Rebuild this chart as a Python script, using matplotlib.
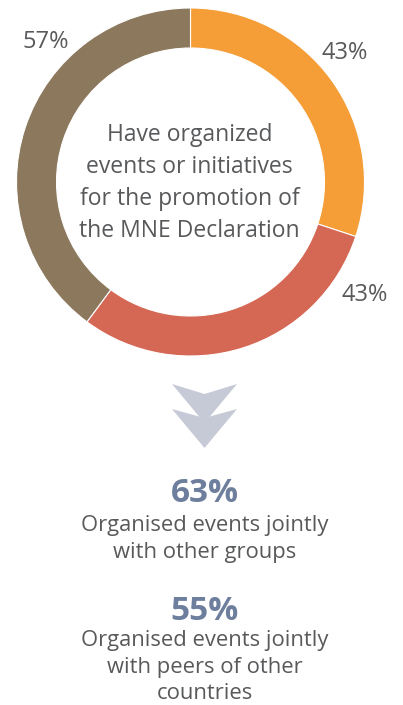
#!/usr/bin/env python3
"""
Donut chart: MNE Declaration promotion events, with follow-up stats below
"""

import matplotlib
matplotlib.use('Agg')
import matplotlib.pyplot as plt
from matplotlib.patches import Polygon

# --- data ---
segment_values = [43, 43, 57]
segment_labels = ['43%', '43%', '57%']
segment_colors = ['#F59D36', '#D56755', '#8B785D']
center_text = 'Have organized\nevents or initiatives\nfor the promotion of\nthe MNE Declaration'
stat_values = ['63%', '55%']
stat_texts = ['Organised events jointly\nwith other groups',
              'Organised events jointly\nwith peers of other\ncountries']

W, H = 403, 705
TEXT_GRAY = '#58595B'
SLATE = '#6E7F9E'
ARROW = '#C6CAD7'

plt.rcParams['font.family'] = ['Open Sans', 'DejaVu Sans']

fig = plt.figure(figsize=(W / 100, H / 100), dpi=100)
ax = fig.add_axes([0, 0, 1, 1])

# donut (pixel coords, y flipped so that y grows upward)
cx, cy = 190.5, H - 182
ax.pie(segment_values, colors=segment_colors, startangle=90, counterclock=False,
       radius=174, center=(cx, cy),
       wedgeprops=dict(width=40, edgecolor='white', linewidth=0.8))

# percentage labels around the ring
label_pos = [(345, 53), (365, 295), (46, 42)]
for (x, y), txt in zip(label_pos, segment_labels):
    ax.text(x, H - y, txt, ha='center', va='center', fontsize=17, color=TEXT_GRAY)

ax.text(189.5, H - 183, center_text, ha='center', va='center', fontsize=16.5,
        color=TEXT_GRAY, linespacing=1.44)

# double chevron arrow
def chevron(top, notch, tip):
    left, right = 172, 237
    mid = 204.5
    return Polygon([(left, H - top), (mid, H - notch), (right, H - top), (mid, H - tip)],
                   closed=True, facecolor=ARROW, edgecolor='none')

ax.add_patch(chevron(384, 394, 423))
ax.add_patch(chevron(409, 418, 448))

# stats below
stat_y = [493, 611]
text_y = [539, 667]
for sv, st, y1, y2 in zip(stat_values, stat_texts, stat_y, text_y):
    ax.text(204.5, H - y1, sv, ha='center', va='center', fontsize=24,
            fontweight='bold', color=SLATE)
    ax.text(205, H - y2, st, ha='center', va='center', fontsize=15.8,
            color=TEXT_GRAY, linespacing=1.32)

ax.set_xlim(0, W)
ax.set_ylim(0, H)
ax.set_aspect('equal')
ax.axis('off')

fig.savefig('out.png', dpi=100, facecolor='white')
